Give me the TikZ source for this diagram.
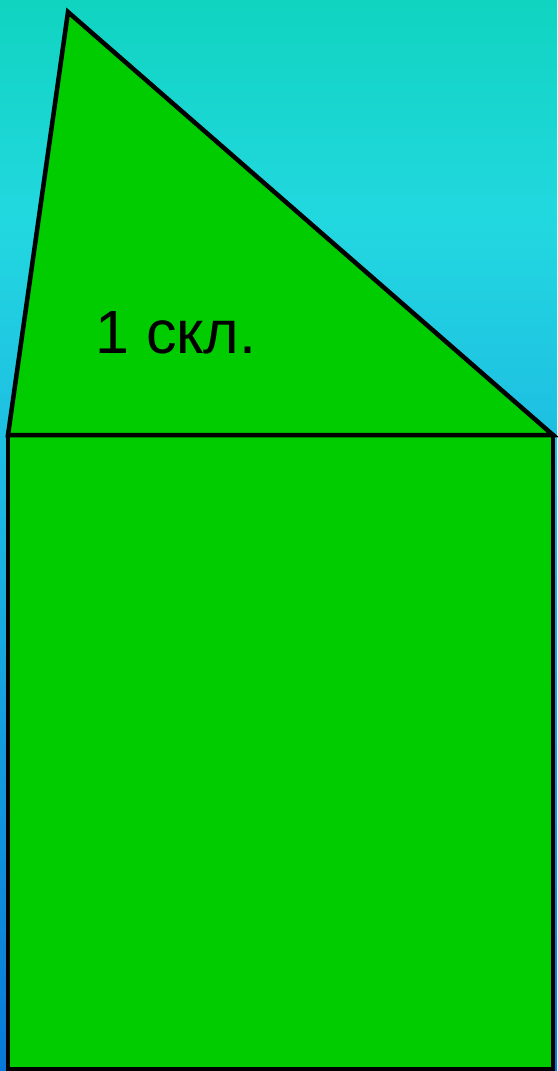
\documentclass[tikz,border=0pt]{standalone}
\usepackage{fontspec}
\setmainfont{Liberation Sans}
\begin{document}
\begin{tikzpicture}[x=1pt,y=-1pt,
  shapefill/.style={fill={rgb,255:red,0;green,204;blue,0},draw=black,line width=4.5pt,line join=miter}]
\definecolor{bgtop}{RGB}{16,212,192}
\definecolor{bgmid}{RGB}{34,216,224}
\definecolor{bglow}{RGB}{30,190,226}
\definecolor{bgbot}{RGB}{8,120,216}
\useasboundingbox (0,0) rectangle (557,1071);
\shade[top color=bgtop,bottom color=bgmid] (0,0) rectangle (557,220);
\shade[top color=bgmid,bottom color=bglow] (0,220) rectangle (557,440);
\shade[top color=bglow,bottom color=bgbot] (0,440) rectangle (557,1071);
\coordinate (apex) at (68,12);
\coordinate (bl) at (8,435);
\coordinate (br) at (553,435);
\coordinate (fl) at (8,1069);
\coordinate (fr) at (553,1069);
\draw[shapefill] (bl) rectangle (fr);
\draw[shapefill] (apex) -- (br) -- (bl) -- cycle;
\node[font=\fontsize{61}{63}\selectfont,anchor=base west,inner sep=0] (lbl) at (95,353) {1 скл.};
\end{tikzpicture}
\end{document}
